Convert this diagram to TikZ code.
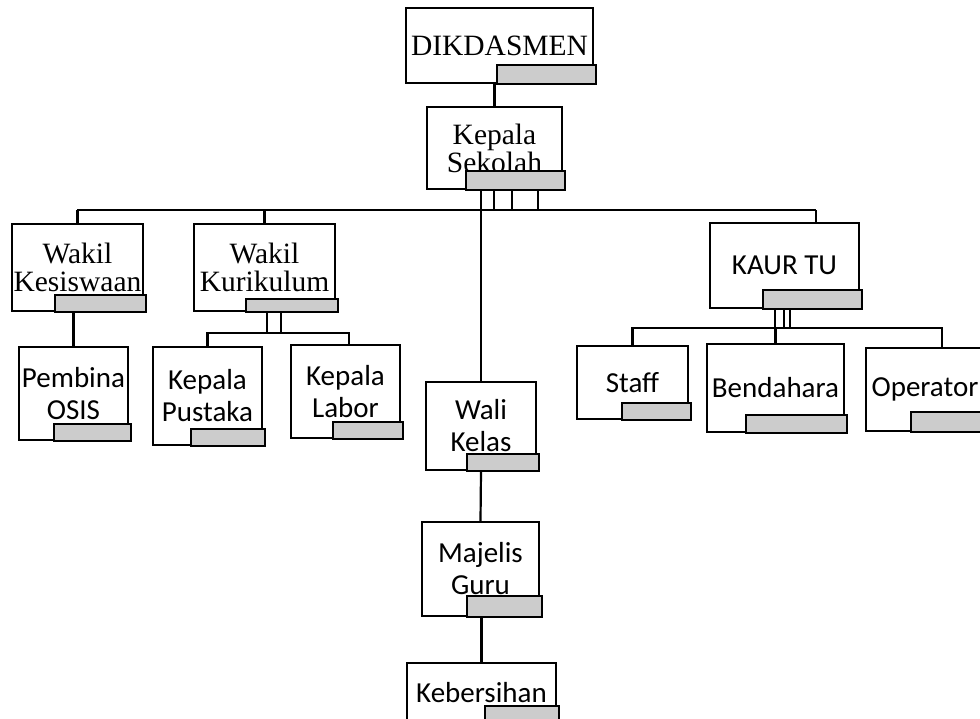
\documentclass[tikz,border=0pt]{standalone}
\usepackage{fontspec}
\newfontfamily\timesfont{Liberation Serif}
\newfontfamily\calibrifont{Carlito}
\definecolor{tabgray}{RGB}{204,204,204}
\tikzset{unit/.style={draw, line width=2.2pt, fill=white, inner sep=0pt, align=center},
  oldunit/.style={unit, font=\timesfont\fontsize{29.5}{28}\selectfont},
  newunit/.style={unit, font=\calibrifont\fontsize{29}{32}\selectfont},
  tabfill/.style={fill=tabgray, draw=black, line width=2.6pt},
  link/.style={line width=2.2pt}}
\newcommand{\tabbar}[3]{\filldraw[tabfill] ([xshift=2pt]#1.south east) rectangle ++(-#2,-#3);}

\begin{document}
\begin{tikzpicture}[x=1pt,y=-1pt]
\useasboundingbox (0,0) rectangle (980,719);
\clip (0,0) rectangle (980,719);

% top
\node[oldunit, minimum width=187pt, minimum height=75pt] (dik) at (499.5,45.5) {DIKDASMEN};
\node[oldunit, minimum width=135pt, minimum height=82pt] (kepsek) at (494.5,148) {Kepala\\Sekolah};

% wakil
\node[oldunit, minimum width=131pt, minimum height=87pt] (wkes) at (77.5,267.5) {Wakil\\Kesiswaan};
\node[oldunit, minimum width=141pt, minimum height=87pt] (wkur) at (264.5,267.5) {Wakil\\Kurikulum};
\node[newunit, minimum width=109pt, minimum height=93pt] (osis) at (73.5,393.5) {Pembina\\OSIS};
\node[newunit, minimum width=109pt, minimum height=98pt] (pustaka) at (207.5,396) {Kepala\\Pustaka};
\node[newunit, minimum width=109pt, minimum height=93pt] (labor) at (345.5,391.5) {Kepala\\Labor};

% tata usaha
\node[newunit, minimum width=149pt, minimum height=85pt] (kaur) at (784.5,265.5) {KAUR TU};
\node[newunit, minimum width=111pt, minimum height=73pt] (staff) at (632.5,382.5) {Staff};
\node[newunit, minimum width=137pt, minimum height=88pt] (bendahara) at (775.5,388) {Bendahara};
\node[newunit, minimum width=118pt, minimum height=83pt] (operator) at (925,389.5) {Operator};

% tengah
\node[newunit, minimum width=110pt, minimum height=88pt] (wali) at (481,426) {Wali\\Kelas};
\node[newunit, minimum width=117pt, minimum height=94pt] (majelis) at (480.5,569) {Majelis\\Guru};
\node[newunit, minimum width=149pt, minimum height=60pt] (bersih) at (481.5,693) {Kebersihan};

\coordinate (kaurtop) at (816,223);
\coordinate (optop) at (942,348);

% lines
\draw[link] (kepsek.north) -- (kepsek.north |- dik.south);
\draw[link] (77,210) -- (816,210);
\foreach \x in {481,494,512,538}
  \draw[link] (\x,189) -- (\x,210);
\draw[link] (wkes.north) -- (wkes.north |- 0,210);
\draw[link] (wkur.north) -- (wkur.north |- 0,210);
\draw[link] (kaurtop) -- (816,210);
\draw[link] (wali.north) -- (wali.north |- kepsek.south);

\draw[link] (osis.north) -- (osis.north |- wkes.south);
\foreach \x in {267,281}
  \draw[link] (\x,311) -- (\x,333);
\draw[link] (pustaka.north) -- (pustaka.north |- 0,333) -- (349,333) -- (349,345);

\foreach \x in {775,784,790}
  \draw[link] (\x,308) -- (\x,328);
\draw[link] (staff.north) -- (staff.north |- 0,328) -- (942,328) -- (optop);
\draw[link] (bendahara.north) -- (bendahara.north |- 0,328);

\draw[link] (majelis.north) -- (wali.south);
\draw[link] (bersih.north) -- (bersih.north |- majelis.south);

% grey bars
\tabbar{dik}{99}{19}
\tabbar{kepsek}{99}{19}
\tabbar{wkes}{91}{17}
\tabbar{wkur}{92}{13}
\tabbar{osis}{77}{17}
\tabbar{pustaka}{74}{17}
\tabbar{labor}{70}{17}
\tabbar{kaur}{99}{19}
\tabbar{staff}{69}{17}
\tabbar{bendahara}{101}{18}
\tabbar{operator}{76}{20}
\tabbar{wali}{72}{17}
\tabbar{majelis}{75}{21}
\tabbar{bersih}{74}{18}
\end{tikzpicture}
\end{document}
